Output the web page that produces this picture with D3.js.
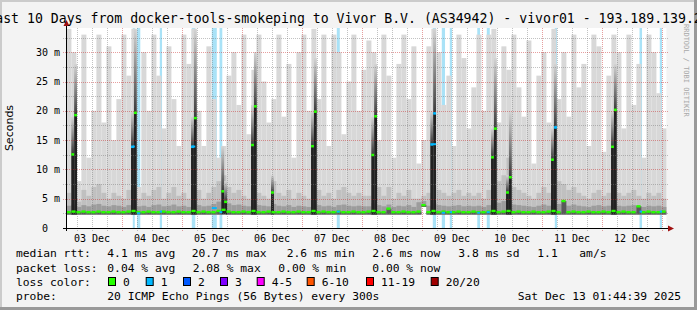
<!DOCTYPE html>
<html>
<head>
<meta charset="utf-8">
<script src="https://cdn.jsdelivr.net/npm/d3@7"></script>
<style>
body{margin:0;background:#f3f3f3}
svg{display:block}
text{font-family:'DejaVu Sans Mono',monospace;fill:#000}
</style>
</head>
<body>
<div id="graf"></div>
<script>
// datos: buckets de 2 horas desde el inicio del periodo (Dec 3 01:44:39)
var rttMax = [34,30,8,33,12,20,33,18,31,15, 22,33,26,34,7,30,20,33,26,17,
              31,22,14,33,28,34,20,14,31,22, 12,14,26,30,21,33,16,27,33,25,
              18,22,33,19,28,12,30,33,20,34, 22,33,14,33,30,16,25,33,20,27,
              32,30,15,33,26,12,28,33,22,31, 11,15,31,34,30,21,26,14,33,29,
              17,24,33,20,33,34,18,31,27,33, 24,19,32,11,26,30,18,34,22,30,
              19,33,24,28,14,33,31,13,26,33, 30,17,33,21,28,12,33,30,23,17]
var rttMid = [6,14,4.5,6.5,5.5,7,7.5,6,5,6, 5.5,5,6.5,9,5,6,5.5,6.5,7,5,
              6,7,5.5,6,5,10,6.5,5,6,7, 8,9,7,6,6.5,5.5,5,10,6,5.5,
              5,8,6,5.5,6.5,5,6,5.5,5,10, 6.5,5.5,6,5,6.5,7,6,5.5,6,5.5,
              5.5,10,7,5.5,7,5,6,5.5,6.5,5, 5,5.5,6,10,6.5,6,5.5,6,6.5,5.5,
              6,5.5,6,5,6.5,10,8,9,12,7, 6.5,6,5.5,5,6,7,6,10,8,7.5,
              6.5,7,6,5.5,5,6,6.5,5.5,6,10, 6,5.5,6,6.5,5.5,5,6,5.5,6,5]
var rttLow = [3.8,4,3.6,3.9,3.7,4,4.1,3.8,3.7,3.9, 3.8,3.6,3.9,4.2,3.7,3.8,3.6,3.9,4,3.7,
              3.8,4,3.7,3.8,3.6,4.2,3.9,3.7,3.8,4.1, 4.5,4.8,4.2,3.9,4,3.8,3.7,4.2,3.9,3.8,
              3.7,4.1,3.8,3.7,3.9,3.6,3.8,3.7,3.6,4.2, 3.9,3.7,3.8,3.6,3.9,4,3.8,3.7,3.8,3.7,
              3.7,4.2,3.9,3.7,4,3.6,3.8,3.7,3.9,3.6, 4.4,4.6,3.8,4.2,3.9,3.8,3.7,3.8,3.9,3.7,
              3.8,3.7,3.8,3.6,3.9,4.2,4.3,4.6,4.8,4, 3.9,3.8,3.7,3.6,3.8,4,3.8,4.2,4.1,3.9,
              3.8,4,3.8,3.7,3.6,3.8,3.9,3.7,3.8,4.2, 3.8,3.7,3.8,3.9,3.7,3.6,3.8,3.7,3.8,3.6]
var rttMin = [2.3,2.3,2.3,2.3,2.3,2.3,2.3,2.3,2.3,2.3, 2.3,2.3,2.3,2.3,2.3,2.3,2.3,2.3,2.3,2.3,
              2.3,2.3,2.3,2.3,2.3,2.3,2.3,2.3,2.3,2.3, 2.3,2.4,2.3,2.3,2.3,2.3,2.3,2.3,2.3,2.3,
              2.3,2.3,2.3,2.3,2.3,2.3,2.3,2.3,2.3,2.3, 2.3,2.3,2.3,2.3,2.3,2.3,2.3,2.3,2.3,2.3,
              2.3,2.3,2.3,2.3,2.3,2.3,2.3,2.3,2.3,2.3, 2.3,3.6,2.3,2.3,2.3,2.3,2.3,2.3,2.3,2.3,
              2.3,2.3,2.3,2.3,2.3,2.3,2.3,2.3,2.3,2.3, 2.3,2.3,2.3,2.3,2.3,2.3,2.3,2.3,2.3,2.3,
              2.3,2.3,2.3,2.3,2.3,2.3,2.3,2.3,2.3,2.3, 2.3,2.3,2.3,2.3,2.3,2.3,2.3,2.3,2.3,2.3]
var rttMed = [2.7,2.8,2.7,2.8,2.7,2.7,2.8,2.7,2.7,2.8, 2.7,2.7,2.8,2.9,2.7,2.7,2.8,2.7,2.7,2.8,
              2.7,2.7,2.8,2.7,2.7,2.9,2.7,2.8,2.7,2.7, 2.9,3.1,2.8,2.7,2.7,2.8,2.7,2.9,2.7,2.7,
              2.8,2.7,2.7,2.8,2.7,2.7,2.8,2.7,2.7,2.9, 2.7,2.8,2.7,2.7,2.8,2.7,2.7,2.8,2.7,2.7,
              2.8,2.9,2.7,2.7,3.3,2.7,2.7,2.8,2.7,2.7, 2.8,3.9,2.7,2.9,2.7,2.8,2.7,2.7,2.8,2.7,
              2.7,2.8,2.7,2.7,2.8,2.9,2.7,2.8,2.9,2.7, 2.8,2.7,2.7,2.8,2.7,2.7,2.8,2.9,2.7,4.6,
              2.7,2.8,2.7,2.7,2.8,2.7,2.7,2.8,2.7,2.9, 2.7,2.8,2.7,2.7,3.7,2.7,2.8,2.7,2.7,2.8]

// picos diarios: hora de inicio (horas desde Dec 3 00:00), medianas, techo del humo y pérdida
var spikeHour = [3.7, 27.6, 51.6, 63.7, 75.6, 83.6, 99.6, 123.7, 147.3, 171.6, 177.6, 195.6, 219.6]
var spikeMed  = [[12.6,19.3],[13.9,19.7],[13.9,18.8],[6.3,4.5],[14.2,20.8],[6.1],[14.0,19.9],
                 [12.5,19.1],[14.3,19.6],[12.1,17.0],[6.1,8.7],[11.7,17.2],[13.9,20.2]]
var spikeTop  = [[19,28],[20,34],[19,34],[14,8],[21,30],[9],[20,29],[19,28],[20,34],[17,29],[9,20],[17,28],[20,28]]
var spikeLoss = [[0,0],[1,0],[1,0],[0,0],[0,0],[0],[0,0],[0,0],[1,1],[0,0],[0,0],[0,1],[0,0]]

// columnas con pérdida (inicio, fin en horas desde Dec 3 00:00) y su mediana
var lossStart = [28.3, 30.0, 39.1, 51.9, 59.9, 63.0, 109.9, 148.3, 151.9, 155.1, 166.1, 169.9, 197.1, 231.0, 239.1]
var lossEnd   = [29.1, 31.3, 40.0, 53.3, 61.9, 64.1, 111.1, 149.6, 153.2, 156.0, 167.2, 171.1, 198.0, 232.0, 240.0]
var lossMed   = [13.9, 2.5, 2.8, 13.9, 3.4, 2.7, 2.8, 14.3, 2.6, 2.7, 2.6, 2.7, 17.2, 2.8, 2.8]

var yTicks = [0, 5, 10, 15, 20, 25, 30]
var dayLabels = [3, 4, 5, 6, 7, 8, 9, 10, 11, 12]
var legendColors = ['#26ff00','#00b8ff','#0059ff','#7e00ff','#ff00ff','#ff5500','#ff0000','#a00000']
var legendLabels = ['0','1','2','3','4-5','6-10','11-19','20/20']

var W = 697, Hh = 310
var H1 = 3600e3
var base = Date.UTC(2025, 11, 3, 0, 0, 0)
var hr = h => new Date(base + h * H1)
var tStart = new Date(Date.UTC(2025, 11, 3, 1, 44, 39))
var tEnd = new Date(Date.UTC(2025, 11, 13, 1, 44, 39))

var svg = d3.select('#graf').append('svg').attr('width', W).attr('height', Hh)
var defs = svg.append('defs')
var grad = defs.append('linearGradient').attr('id', 'fade').attr('x1', 0).attr('y1', 1).attr('x2', 0).attr('y2', 0)
grad.append('stop').attr('offset', '0%').attr('stop-color', '#3a3a3a')
grad.append('stop').attr('offset', '100%').attr('stop-color', '#d4d4d4')

// marco
svg.append('rect').attr('width', W).attr('height', Hh).attr('fill', '#f3f3f3')
svg.append('rect').attr('x', 0).attr('y', 0).attr('width', W).attr('height', 2).attr('fill', '#cbcbcb')
svg.append('rect').attr('x', 0).attr('y', 0).attr('width', 2).attr('height', Hh).attr('fill', '#cbcbcb')
svg.append('rect').attr('x', W - 3).attr('y', 0).attr('width', 3).attr('height', Hh).attr('fill', '#999')
svg.append('rect').attr('x', 0).attr('y', Hh - 3).attr('width', W).attr('height', 3).attr('fill', '#999')

var x = d3.scaleTime().domain([tStart, tEnd]).range([66.4, 666.4])
var y = d3.scaleLinear().domain([0, 34.13]).range([228, 28])

var g = svg.append('g')
g.append('rect').attr('x', x.range()[0]).attr('y', y.range()[1]).attr('width', 600).attr('height', 200).attr('fill', '#fff')

// fondo de pérdida
g.selectAll('rect.loss').data(lossStart).enter().append('rect').attr('class', 'loss')
  .attr('x', d => x(hr(d)))
  .attr('width', (d, i) => x(hr(lossEnd[i])) - x(hr(d)))
  .attr('y', y.range()[1]).attr('height', 200)
  .attr('fill', '#a9e2f7')

// humo
var bucketT = i => new Date(tStart.getTime() + i * 2 * H1)
function smoke(top, bottom, color) {
  g.append('g').selectAll('rect').data(top).enter().append('rect')
    .attr('x', (d, i) => x(bucketT(i)))
    .attr('width', (d, i) => x(bucketT(i + 1)) - x(bucketT(i)))
    .attr('y', d => y(d))
    .attr('height', (d, i) => Math.max(0, y(bottom[i]) - y(d)))
    .attr('fill', color)
}
smoke(rttMax, rttMin, '#d8d8d8')
smoke(rttMid, rttMin, '#c0c0c0')
smoke(rttLow, rttMin, '#9c9c9c')
smoke(rttMed, rttMin, '#5a5a5a')

// picos
var colW = 1.15
spikeHour.forEach((h, s) => {
  spikeMed[s].forEach((m, c) => {
    var x0 = x(hr(h + c * colW)), x1 = x(hr(h + (c + 1) * colW))
    var top = spikeTop[s][c]
    g.append('rect').attr('x', x0).attr('width', x1 - x0)
      .attr('y', y(top)).attr('height', y(m) - y(top)).attr('fill', 'url(#fade)')
    g.append('rect').attr('x', x0).attr('width', x1 - x0)
      .attr('y', y(m)).attr('height', y(2.3) - y(m)).attr('fill', '#222')
  })
})

// rejilla
var minorX = d3.utcHour.every(6).range(tStart, tEnd)
g.selectAll('line.vg').data(minorX).enter().append('line')
  .attr('x1', d => Math.round(x(d)) + 0.5).attr('x2', d => Math.round(x(d)) + 0.5)
  .attr('y1', y.range()[1]).attr('y2', 231)
  .attr('stroke', d => d.getUTCHours() == 0 ? 'rgba(200,40,40,0.45)' : 'rgba(120,120,120,0.45)')
  .attr('stroke-dasharray', '1,1')
var gridY = d3.range(2.5, 34, 2.5)
g.selectAll('line.hg').data(gridY).enter().append('line')
  .attr('x1', 63).attr('x2', 669)
  .attr('y1', d => Math.round(y(d)) + 0.5).attr('y2', d => Math.round(y(d)) + 0.5)
  .attr('stroke', d => d % 5 == 0 ? 'rgba(200,40,40,0.45)' : 'rgba(120,120,120,0.45)')
  .attr('stroke-dasharray', '1,1')

// mediana
g.selectAll('rect.med').data(rttMed).enter().append('rect')
  .attr('x', (d, i) => x(bucketT(i)))
  .attr('width', 4.2)
  .attr('y', d => y(d) - 1.2).attr('height', 2.4)
  .attr('fill', legendColors[0])
spikeHour.forEach((h, s) => {
  spikeMed[s].forEach((m, c) => {
    var x0 = x(hr(h + c * colW)), x1 = x(hr(h + (c + 1) * colW))
    g.append('rect').attr('x', x0).attr('width', x1 - x0)
      .attr('y', y(m) - 1).attr('height', 2.5)
      .attr('fill', legendColors[spikeLoss[s][c]])
  })
})
g.selectAll('rect.lmed').data(lossMed).enter().append('rect')
  .attr('x', (d, i) => x(hr(lossStart[i])))
  .attr('width', (d, i) => x(hr(lossEnd[i])) - x(hr(lossStart[i])))
  .attr('y', d => y(d) - 1).attr('height', 2)
  .attr('fill', legendColors[1])

// ejes
g.append('line').attr('x1', 63).attr('x2', 668).attr('y1', 228.5).attr('y2', 228.5).attr('stroke', '#000')
g.append('line').attr('x1', 66.5).attr('x2', 66.5).attr('y1', 231).attr('y2', 25).attr('stroke', '#000')
g.append('path').attr('d', 'M668,225.5 L674,228.5 L668,231.5 Z').attr('fill', '#a01010')
g.append('path').attr('d', 'M63.5,26 L66.5,20 L69.5,26 Z').attr('fill', '#a01010')

g.selectAll('text.yl').data(yTicks).enter().append('text')
  .attr('x', 48).attr('y', d => y(d) + 3.5)
  .attr('text-anchor', 'end').style('font-size', '10px')
  .text(d => d)
g.selectAll('text.ym').data(yTicks.filter(d => d > 0)).enter().append('text')
  .attr('x', 54).attr('y', d => y(d) + 3.5)
  .style('font-size', '10px').text('m')

var fmt = d3.utcFormat('%d %b')
g.selectAll('text.xl').data(dayLabels).enter().append('text')
  .attr('x', d => x(new Date(Date.UTC(2025, 11, d, 12))))
  .attr('y', 241.5).attr('text-anchor', 'middle').style('font-size', '10px')
  .text(d => fmt(new Date(Date.UTC(2025, 11, d))))

svg.append('text').attr('transform', 'translate(13,128) rotate(-90)')
  .attr('text-anchor', 'middle').style('font-family', 'DejaVu Sans').style('font-size', '11px')
  .text('Seconds')

svg.append('text').attr('x', 348.5).attr('y', 22.5).attr('text-anchor', 'middle').style('font-size', '13.2px')
  .text('Last 10 Days from docker-tools-smokeping to Vivor B.V. (AS34942) - vivor01 - 193.189.139.22')

svg.append('text').attr('transform', 'translate(684,24) rotate(90)')
  .style('font-size', '7px').style('fill', '#a8a8a8')
  .text('RRDTOOL / TOBI OETIKER')

// leyenda
var lf = '11.3px'
var rows = [
  [[16, 'median rtt:'], [107.3, '4.1 ms avg'], [191.7, '20.7 ms max'], [286.7, '2.6 ms min'], [372.3, '2.6 ms now'], [458.3, '3.8 ms sd'], [537.3, '1.1'], [579.3, 'am/s']],
  [[16, 'packet loss:'], [107.3, '0.04 % avg'], [192.7, '2.08 % max'], [278.3, '0.00 % min'], [372.3, '0.00 % now']],
  [[16, 'loss color:']],
  [[16, 'probe:'], [107.3, '20 ICMP Echo Pings (56 Bytes) every 300s']]
]
rows.forEach((r, i) => {
  r.forEach(c => {
    svg.append('text').attr('x', c[0]).attr('y', 257.3 + i * 14.2).style('font-size', lf).text(c[1])
  })
})
svg.append('text').attr('x', 681).attr('y', 257.3 + 3 * 14.2).attr('text-anchor', 'end').style('font-size', lf)
  .text('Sat Dec 13 01:44:39 2025')
var sqX = [108, 145.7, 183, 220, 256.7, 306.7, 366, 430.7]
legendColors.forEach((c, i) => {
  svg.append('rect').attr('x', sqX[i] + 0.5).attr('y', 277.5).attr('width', 7).attr('height', 8)
    .attr('fill', c).attr('stroke', '#000')
  svg.append('text').attr('x', sqX[i] + 15).attr('y', 257.3 + 2 * 14.2).style('font-size', lf).text(legendLabels[i])
})
</script>
</body>
</html>
